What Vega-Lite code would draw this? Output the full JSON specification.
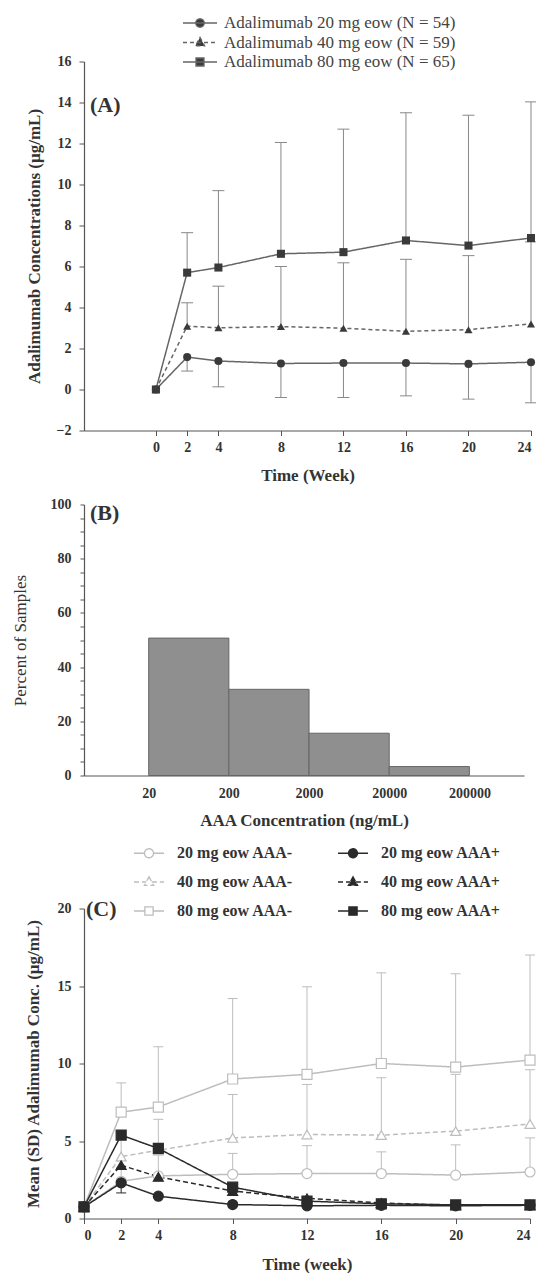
{
  "$schema": "https://vega.github.io/schema/vega-lite/v6.json",
  "background": "white",
  "padding": {"left": 11, "top": 13.5, "right": 0, "bottom": 0},
  "config": {
    "font": "Liberation Serif",
    "view": {"stroke": null},
    "axis": {
      "labelFont": "Liberation Serif", "labelFontSize": 14, "labelFontWeight": "bold", "labelColor": "#333",
      "titleFont": "Liberation Serif", "titleFontSize": 17, "titleFontWeight": "bold", "titleColor": "#333",
      "domainColor": "#555", "tickColor": "#555", "grid": false, "tickSize": 5, "domainWidth": 1.2, "tickWidth": 1
    },
    "legend": {"labelFont": "Liberation Serif", "padding": 0, "labelLimit": 400},
    "title": {"font": "Liberation Serif", "fontSize": 22, "fontWeight": "bold", "color": "#333", "anchor": "start", "frame": "group"}
  },
  "datasets": {
    "a": [
      {"week": 0, "dose": "Adalimumab 20 mg eow (N = 54)", "mean": 0, "err": null},
      {"week": 2, "dose": "Adalimumab 20 mg eow (N = 54)", "mean": 1.58, "err": 0.9},
      {"week": 4, "dose": "Adalimumab 20 mg eow (N = 54)", "mean": 1.39, "err": 0.13},
      {"week": 8, "dose": "Adalimumab 20 mg eow (N = 54)", "mean": 1.27, "err": -0.39},
      {"week": 12, "dose": "Adalimumab 20 mg eow (N = 54)", "mean": 1.29, "err": -0.39},
      {"week": 16, "dose": "Adalimumab 20 mg eow (N = 54)", "mean": 1.29, "err": -0.31},
      {"week": 20, "dose": "Adalimumab 20 mg eow (N = 54)", "mean": 1.25, "err": -0.47},
      {"week": 24, "dose": "Adalimumab 20 mg eow (N = 54)", "mean": 1.33, "err": -0.65},
      {"week": 0, "dose": "Adalimumab 40 mg eow (N = 59)", "mean": 0, "err": null},
      {"week": 2, "dose": "Adalimumab 40 mg eow (N = 59)", "mean": 3.09, "err": 4.23},
      {"week": 4, "dose": "Adalimumab 40 mg eow (N = 59)", "mean": 3.01, "err": 5.04},
      {"week": 8, "dose": "Adalimumab 40 mg eow (N = 59)", "mean": 3.07, "err": 6.0},
      {"week": 12, "dose": "Adalimumab 40 mg eow (N = 59)", "mean": 2.99, "err": 6.18},
      {"week": 16, "dose": "Adalimumab 40 mg eow (N = 59)", "mean": 2.84, "err": 6.35},
      {"week": 20, "dose": "Adalimumab 40 mg eow (N = 59)", "mean": 2.92, "err": 6.53},
      {"week": 24, "dose": "Adalimumab 40 mg eow (N = 59)", "mean": 3.2, "err": 7.2},
      {"week": 0, "dose": "Adalimumab 80 mg eow (N = 65)", "mean": 0, "err": null},
      {"week": 2, "dose": "Adalimumab 80 mg eow (N = 65)", "mean": 5.7, "err": 7.65},
      {"week": 4, "dose": "Adalimumab 80 mg eow (N = 65)", "mean": 5.95, "err": 9.7},
      {"week": 8, "dose": "Adalimumab 80 mg eow (N = 65)", "mean": 6.62, "err": 12.05},
      {"week": 12, "dose": "Adalimumab 80 mg eow (N = 65)", "mean": 6.7, "err": 12.7},
      {"week": 16, "dose": "Adalimumab 80 mg eow (N = 65)", "mean": 7.27, "err": 13.5},
      {"week": 20, "dose": "Adalimumab 80 mg eow (N = 65)", "mean": 7.02, "err": 13.38},
      {"week": 24, "dose": "Adalimumab 80 mg eow (N = 65)", "mean": 7.39, "err": 14.03}
    ],
    "b": [
      {"lo": 20, "hi": 200, "pct": 50.7},
      {"lo": 200, "hi": 2000, "pct": 31.8},
      {"lo": 2000, "hi": 20000, "pct": 15.6},
      {"lo": 20000, "hi": 200000, "pct": 3.3}
    ],
    "c": [
      {"week": 0, "grp": "20 mg eow AAA-", "mean": 0.75, "err": null},
      {"week": 2, "grp": "20 mg eow AAA-", "mean": 2.4, "err": 3.3},
      {"week": 4, "grp": "20 mg eow AAA-", "mean": 2.75, "err": 4.1},
      {"week": 8, "grp": "20 mg eow AAA-", "mean": 2.85, "err": 4.2},
      {"week": 12, "grp": "20 mg eow AAA-", "mean": 2.9, "err": 4.7},
      {"week": 16, "grp": "20 mg eow AAA-", "mean": 2.9, "err": 4.3},
      {"week": 20, "grp": "20 mg eow AAA-", "mean": 2.8, "err": 4.75},
      {"week": 24, "grp": "20 mg eow AAA-", "mean": 3.0, "err": 5.2},
      {"week": 0, "grp": "40 mg eow AAA-", "mean": 0.75, "err": null},
      {"week": 2, "grp": "40 mg eow AAA-", "mean": 4.0, "err": 5.5},
      {"week": 4, "grp": "40 mg eow AAA-", "mean": 4.4, "err": 6.4},
      {"week": 8, "grp": "40 mg eow AAA-", "mean": 5.2, "err": 8.0},
      {"week": 12, "grp": "40 mg eow AAA-", "mean": 5.42, "err": 8.65},
      {"week": 16, "grp": "40 mg eow AAA-", "mean": 5.38, "err": 9.08},
      {"week": 20, "grp": "40 mg eow AAA-", "mean": 5.64, "err": 9.3},
      {"week": 24, "grp": "40 mg eow AAA-", "mean": 6.1, "err": 9.6},
      {"week": 0, "grp": "80 mg eow AAA-", "mean": 0.75, "err": null},
      {"week": 2, "grp": "80 mg eow AAA-", "mean": 6.86, "err": 8.75},
      {"week": 4, "grp": "80 mg eow AAA-", "mean": 7.19, "err": 11.08},
      {"week": 8, "grp": "80 mg eow AAA-", "mean": 9.0, "err": 14.19},
      {"week": 12, "grp": "80 mg eow AAA-", "mean": 9.3, "err": 14.95},
      {"week": 16, "grp": "80 mg eow AAA-", "mean": 10.0, "err": 15.85},
      {"week": 20, "grp": "80 mg eow AAA-", "mean": 9.77, "err": 15.79},
      {"week": 24, "grp": "80 mg eow AAA-", "mean": 10.22, "err": 17.0},
      {"week": 0, "grp": "20 mg eow AAA+", "mean": 0.75, "err": null},
      {"week": 2, "grp": "20 mg eow AAA+", "mean": 2.3, "err": 1.65},
      {"week": 4, "grp": "20 mg eow AAA+", "mean": 1.44, "err": null},
      {"week": 8, "grp": "20 mg eow AAA+", "mean": 0.9, "err": null},
      {"week": 12, "grp": "20 mg eow AAA+", "mean": 0.82, "err": null},
      {"week": 16, "grp": "20 mg eow AAA+", "mean": 0.85, "err": null},
      {"week": 20, "grp": "20 mg eow AAA+", "mean": 0.82, "err": null},
      {"week": 24, "grp": "20 mg eow AAA+", "mean": 0.85, "err": null},
      {"week": 0, "grp": "40 mg eow AAA+", "mean": 0.75, "err": null},
      {"week": 2, "grp": "40 mg eow AAA+", "mean": 3.44, "err": null},
      {"week": 4, "grp": "40 mg eow AAA+", "mean": 2.69, "err": null},
      {"week": 8, "grp": "40 mg eow AAA+", "mean": 1.77, "err": null},
      {"week": 12, "grp": "40 mg eow AAA+", "mean": 1.3, "err": null},
      {"week": 16, "grp": "40 mg eow AAA+", "mean": 1.0, "err": null},
      {"week": 20, "grp": "40 mg eow AAA+", "mean": 0.85, "err": null},
      {"week": 24, "grp": "40 mg eow AAA+", "mean": 0.85, "err": null},
      {"week": 0, "grp": "80 mg eow AAA+", "mean": 0.75, "err": null},
      {"week": 2, "grp": "80 mg eow AAA+", "mean": 5.38, "err": null},
      {"week": 4, "grp": "80 mg eow AAA+", "mean": 4.52, "err": null},
      {"week": 8, "grp": "80 mg eow AAA+", "mean": 2.02, "err": null},
      {"week": 12, "grp": "80 mg eow AAA+", "mean": 1.12, "err": null},
      {"week": 16, "grp": "80 mg eow AAA+", "mean": 0.95, "err": null},
      {"week": 20, "grp": "80 mg eow AAA+", "mean": 0.88, "err": null},
      {"week": 24, "grp": "80 mg eow AAA+", "mean": 0.88, "err": null}
    ]
  },
  "spacing": 16,
  "resolve": {
    "scale": {"color": "independent", "shape": "independent", "strokeDash": "independent", "fill": "independent", "stroke": "independent"},
    "legend": {"color": "independent", "shape": "independent", "strokeDash": "independent", "fill": "independent", "stroke": "independent"}
  },
  "vconcat": [
    {
      "spacing": 14,
      "vconcat": [
        {
          "width": 447, "height": 369,
          "title": {"text": "(A)", "offset": -62, "dx": 6},
          "data": {"name": "a"},
          "encoding": {
            "x": {"field": "week", "type": "quantitative", "scale": {"domain": [-4.6, 24], "nice": false, "zero": false},
                  "axis": {"values": [0, 2, 4, 8, 12, 16, 20, 24], "title": "Time (Week)", "labelPadding": 5, "titlePadding": 13}}
          },
          "layer": [
            {
              "transform": [{"filter": "isValid(datum.err)"}],
              "mark": {"type": "rule", "color": "#888", "strokeWidth": 1},
              "encoding": {
                "y": {"field": "mean", "type": "quantitative", "scale": {"domain": [-2, 16], "nice": false},
                      "axis": {"values": [-2, 0, 2, 4, 6, 8, 10, 12, 14, 16], "title": "Adalimumab Concentrations (µg/mL)", "labelPadding": 8, "titlePadding": 13}},
                "y2": {"field": "err"}
              }
            },
            {
              "transform": [{"filter": "isValid(datum.err)"}],
              "mark": {"type": "point", "shape": "stroke", "size": 144, "color": "#888", "strokeWidth": 1, "opacity": 1},
              "encoding": {
                "y": {"field": "err", "type": "quantitative", "title": "Adalimumab Concentrations (µg/mL)"}
              }
            },
            {
              "mark": {"type": "line", "strokeWidth": 1.5},
              "encoding": {
                "y": {"field": "mean", "type": "quantitative", "title": "Adalimumab Concentrations (µg/mL)"},
                "color": {
                  "field": "dose", "type": "nominal",
                  "scale": {"domain": ["Adalimumab 20 mg eow (N = 54)", "Adalimumab 40 mg eow (N = 59)", "Adalimumab 80 mg eow (N = 65)"], "range": ["#666", "#666", "#666"]},
                  "legend": {
                    "orient": "none", "legendX": 98, "legendY": -48, "title": null,
                    "symbolSize": 289, "symbolOffset": 8.5, "labelOffset": 14.4,
                    "labelFontSize": 17, "labelFontWeight": "normal", "labelColor": "#444",
                    "rowPadding": 1.5, "symbolStrokeWidth": 1.3,
                    "encode": {
                      "symbols": {
                        "update": {
                          "shape": {"signal": "indexof(datum.value,'20 mg')>=0 ? 'M-2,0H2M0.5,0A0.5,0.5,0,1,1,-0.5,0A0.5,0.5,0,1,1,0.5,0Z' : indexof(datum.value,'40 mg')>=0 ? 'M-2,0H2M0,-0.6L0.55,0.4L-0.55,0.4Z' : 'M-2,0H2M-0.47,-0.47H0.47V0.47H-0.47Z'"},
                          "fill": {"value": "#3a3a3a"}
                        }
                      }
                    }
                  }
                },
                "strokeDash": {
                  "field": "dose", "type": "nominal",
                  "scale": {"domain": ["Adalimumab 20 mg eow (N = 54)", "Adalimumab 40 mg eow (N = 59)", "Adalimumab 80 mg eow (N = 65)"], "range": [[1, 0], [4, 3], [1, 0]]}
                }
              }
            },
            {
              "mark": {"type": "point", "filled": true, "color": "#3a3a3a", "opacity": 1, "size": 65},
              "encoding": {
                "y": {"field": "mean", "type": "quantitative", "title": "Adalimumab Concentrations (µg/mL)"},
                "shape": {"field": "dose", "type": "nominal",
                          "scale": {"range": ["circle", "triangle-up", "square"]},
                          "legend": null}
              }
            }
          ]
        },
        {
          "width": 440, "height": 271,
          "title": {"text": "(B)", "offset": -27, "dx": 6},
          "data": {"name": "b"},
          "mark": {"type": "bar", "color": "#8f8f8f", "stroke": "#666", "strokeWidth": 1},
          "encoding": {
            "x": {"field": "lo", "type": "quantitative", "scale": {"type": "log", "domain": [3.12, 960000], "nice": false},
                  "axis": {"values": [20, 200, 2000, 20000, 200000], "format": "d", "ticks": false, "title": "AAA Concentration (ng/mL)", "labelPadding": 11, "titlePadding": 12}},
            "x2": {"field": "hi"},
            "y": {"field": "pct", "type": "quantitative", "scale": {"domain": [0, 100], "nice": false},
                  "axis": {"values": [0, 5, 10, 15, 20, 25, 30, 35, 40, 45, 50, 55, 60, 65, 70, 75, 80, 85, 90, 95, 100],
                           "labelExpr": "datum.value % 20 === 0 ? datum.label : ''", "tickSize": 4,
                           "title": "Percent of Samples", "titleFontWeight": "normal", "labelPadding": 9, "titlePadding": 21}},
            "y2": {"datum": 0}
          }
        }
      ]
    },
    {
      "width": 446, "height": 310,
      "title": {"text": "(C)", "offset": -76, "dx": 2},
      "data": {"name": "c"},
      "encoding": {
        "x": {"field": "week", "type": "quantitative", "scale": {"domain": [0, 24], "nice": false},
              "axis": {"values": [0, 2, 4, 8, 12, 16, 20, 24], "title": "Time (week)", "labelPadding": 5, "titlePadding": 14}}
      },
      "layer": [
        {
          "transform": [{"filter": "isValid(datum.err)"}],
          "mark": {"type": "rule", "strokeWidth": 1},
          "encoding": {
            "y": {"field": "mean", "type": "quantitative", "scale": {"domain": [0, 20], "nice": false},
                  "axis": {"values": [0, 5, 10, 15, 20], "title": "Mean (SD) Adalimumab Conc. (µg/mL)", "labelPadding": 8, "titlePadding": 15}},
            "y2": {"field": "err"},
            "stroke": {"field": "grp", "type": "nominal",
                       "scale": {"range": ["#2a2a2a", "#bdbdbd", "#2a2a2a", "#bdbdbd", "#2a2a2a", "#bdbdbd"]},
                       "legend": null}
          }
        },
        {
          "transform": [{"filter": "isValid(datum.err)"}],
          "mark": {"type": "point", "shape": "stroke", "size": 100, "strokeWidth": 1, "opacity": 1},
          "encoding": {
            "y": {"field": "err", "type": "quantitative", "title": "Mean (SD) Adalimumab Conc. (µg/mL)"},
            "stroke": {"field": "grp", "type": "nominal", "legend": null}
          }
        },
        {
          "mark": {"type": "line", "strokeWidth": 1.5},
          "encoding": {
            "y": {"field": "mean", "type": "quantitative", "title": "Mean (SD) Adalimumab Conc. (µg/mL)"},
            "color": {"field": "grp", "type": "nominal",
                      "scale": {"domain": ["20 mg eow AAA-", "40 mg eow AAA-", "80 mg eow AAA-", "20 mg eow AAA+", "40 mg eow AAA+", "80 mg eow AAA+"], "range": ["#bdbdbd", "#bdbdbd", "#bdbdbd", "#2a2a2a", "#2a2a2a", "#2a2a2a"]},
                      "legend": {
                        "orient": "none", "legendX": 49, "legendY": -64, "columns": 2, "title": null,
                        "symbolSize": 225, "symbolOffset": 7.5, "labelOffset": 19.6,
                        "labelFontSize": 16, "labelFontWeight": "bold", "labelColor": "#333",
                        "columnPadding": 41, "rowPadding": 12, "symbolStrokeWidth": 1.3,
                        "encode": {
                          "symbols": {
                            "update": {
                              "shape": {"signal": "indexof(datum.value,'20 mg')>=0 ? 'M-2,0H-0.6M0.6,0H2M0.6,0A0.6,0.6,0,1,1,-0.6,0A0.6,0.6,0,1,1,0.6,0Z' : indexof(datum.value,'40 mg')>=0 ? 'M-2,0H-0.38M0.38,0H2M0,-0.7L0.62,0.45L-0.62,0.45Z' : 'M-2,0H-0.55M0.55,0H2M-0.55,-0.55H0.55V0.55H-0.55Z'"},
                              "fill": {"signal": "indexof(datum.value,'AAA-')>=0 ? 'white' : '#2a2a2a'"}
                            }
                          }
                        }
                      }},
            "strokeDash": {"field": "grp", "type": "nominal",
                           "scale": {"domain": ["20 mg eow AAA-", "40 mg eow AAA-", "80 mg eow AAA-", "20 mg eow AAA+", "40 mg eow AAA+", "80 mg eow AAA+"], "range": [[1, 0], [5, 3], [1, 0], [1, 0], [5, 3], [1, 0]]}}
          }
        },
        {
          "mark": {"type": "point", "filled": true, "opacity": 1, "size": 100, "strokeWidth": 1.2},
          "encoding": {
            "y": {"field": "mean", "type": "quantitative", "title": "Mean (SD) Adalimumab Conc. (µg/mL)"},
            "shape": {"field": "grp", "type": "nominal",
                      "scale": {"range": ["circle", "circle", "triangle-up", "triangle-up", "square", "square"]},
                      "legend": null},
            "fill": {"field": "grp", "type": "nominal",
                     "scale": {"range": ["#2a2a2a", "white", "#2a2a2a", "white", "#2a2a2a", "white"]},
                     "legend": null},
            "stroke": {"field": "grp", "type": "nominal", "legend": null}
          }
        }
      ]
    }
  ]
}
